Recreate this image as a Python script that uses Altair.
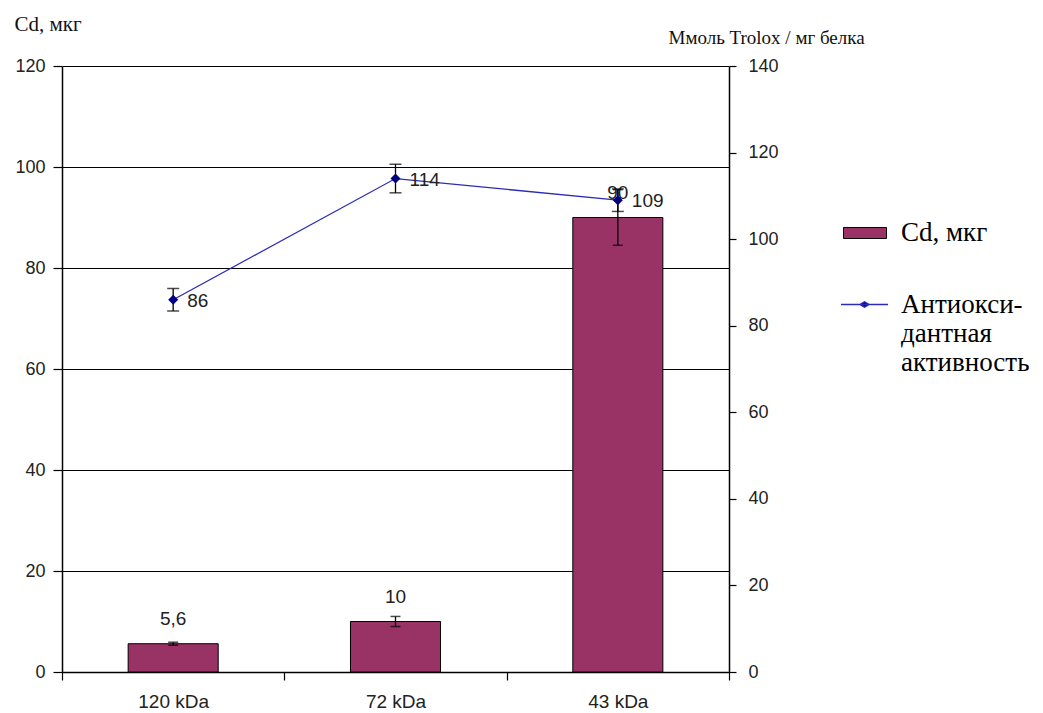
import altair as alt
import pandas as pd

categories = ["120 kDa", "72 kDa", "43 kDa"]
cd_values = [5.6, 10, 90]
cd_errors = [0.3, 1.0, 5.5]
cd_labels = ["5,6", "10", "90"]
aoa_values = [86, 114, 109]
aoa_errors = [2.6, 3.3, 2.6]
aoa_labels = ["86", "114", "109"]
left_ticks = [0, 20, 40, 60, 80, 100, 120]
right_ticks = [0, 20, 40, 60, 80, 100, 120, 140]
bar_series = "Cd, мкг"
line_series = "Антиокси-дантная активность"

bars_df = pd.DataFrame({
    "cat": categories, "val": cd_values, "lab": cd_labels, "series": bar_series,
    "lo": [v - e for v, e in zip(cd_values, cd_errors)],
    "hi": [v + e for v, e in zip(cd_values, cd_errors)],
})
line_df = pd.DataFrame({
    "cat": categories, "val": aoa_values, "lab": aoa_labels, "series": line_series,
    "lo": [v - e for v, e in zip(aoa_values, aoa_errors)],
    "hi": [v + e for v, e in zip(aoa_values, aoa_errors)],
})

SANS = "Liberation Sans"
SERIF = "Liberation Serif"

x_enc = alt.X("cat:N", sort=categories, title=None,
              scale=alt.Scale(paddingInner=0, paddingOuter=0),
              axis=alt.Axis(labelAngle=0, labelFont=SANS, labelFontSize=19, labelColor="#222",
                            labelPadding=12, tickBand="extent", tickSize=8, tickColor="black",
                            tickWidth=1.2, domainColor="black", domainWidth=1.5, grid=False))

left_axis = alt.Axis(values=left_ticks, grid=True, gridColor="black", gridWidth=1, gridOpacity=1,
                     domainColor="black", domainWidth=1.5, tickColor="black", tickSize=9, tickWidth=1.2,
                     labelFont=SANS, labelFontSize=18, labelColor="#222", labelPadding=8,
                     title="Cd, мкг", titleAngle=0, titleX=-48, titleY=-36, titleAlign="left",
                     titleBaseline="alphabetic", titleFont=SERIF, titleFontSize=21,
                     titleFontWeight="normal", titleColor="#111")
right_axis = alt.Axis(values=right_ticks, orient="right", grid=False,
                      domainColor="black", domainWidth=1.5, tickColor="black", tickSize=7, tickWidth=1.2,
                      labelFont=SANS, labelFontSize=18, labelColor="#222", labelPadding=12,
                      title="Ммоль Trolox / мг белка", titleAngle=0, titleX=-61, titleY=-23,
                      titleAlign="left", titleBaseline="alphabetic", titleFont=SERIF, titleFontSize=19,
                      titleFontWeight="normal", titleColor="#111")

ly = alt.Scale(domain=[0, 120], nice=False, zero=True)
ry = alt.Scale(domain=[0, 140], nice=False, zero=True)

base_b = alt.Chart(bars_df)
bars = base_b.mark_bar(stroke="black", strokeWidth=1, width=alt.RelativeBandSize(0.405)).encode(
    x=x_enc,
    y=alt.Y("val:Q", scale=ly, axis=left_axis),
    fill=alt.Fill("series:N", scale=alt.Scale(domain=[bar_series], range=["#993366"]),
                  legend=alt.Legend(title=None, orient="none", legendX=781, legendY=145,
                                    symbolType="M-1,-0.256H1V0.256H-1Z", symbolSize=1849,
                                    symbolStrokeColor="black", symbolStrokeWidth=1,
                                    labelFont=SERIF, labelFontSize=27, labelColor="black",
                                    labelOffset=14, padding=0)),
)
bar_err = base_b.mark_rule(color="black", strokeWidth=1.3).encode(
    x=x_enc, y=alt.Y("lo:Q", scale=ly, axis=left_axis), y2="hi:Q")
bar_cap_lo = base_b.mark_tick(color="black", size=10, thickness=1.5).encode(
    x=x_enc, y=alt.Y("lo:Q", scale=ly, axis=left_axis))
bar_cap_hi = base_b.mark_tick(color="black", size=10, thickness=1.5).encode(
    x=x_enc, y=alt.Y("hi:Q", scale=ly, axis=left_axis))
bar_text = base_b.mark_text(font=SANS, fontSize=19, color="#222", dy=-25, baseline="middle").encode(
    x=x_enc, y=alt.Y("val:Q", scale=ly, axis=left_axis), text="lab:N")

bar_group = alt.layer(bars, bar_err, bar_cap_lo, bar_cap_hi, bar_text)

base_l = alt.Chart(line_df)
line = base_l.mark_line(strokeWidth=1.3).encode(
    x=x_enc,
    y=alt.Y("val:Q", scale=ry, axis=right_axis),
    stroke=alt.Stroke("series:N", scale=alt.Scale(domain=[line_series], range=["#2b2bb8"]),
                      legend=alt.Legend(title=None, orient="none", legendX=778, legendY=214,
                                        symbolType="M-1,0H1M-0.2,0L0,-0.12L0.2,0L0,0.12Z",
                                        symbolSize=2209, symbolFillColor="#000080",
                                        symbolStrokeWidth=1.3,
                                        labelExpr="['Антиокси-', 'дантная', 'активность']",
                                        labelFont=SERIF, labelFontSize=27, labelColor="black",
                                        labelOffset=12, padding=0)),
)
line_err = base_l.mark_rule(color="black", strokeWidth=1.3).encode(
    x=x_enc, y=alt.Y("lo:Q", scale=ry, axis=right_axis), y2="hi:Q")
line_cap_lo = base_l.mark_tick(color="black", size=12, thickness=1.5).encode(
    x=x_enc, y=alt.Y("lo:Q", scale=ry, axis=right_axis))
line_cap_hi = base_l.mark_tick(color="black", size=12, thickness=1.5).encode(
    x=x_enc, y=alt.Y("hi:Q", scale=ry, axis=right_axis))
points = base_l.mark_point(shape="diamond", filled=True, color="#000080", size=100, opacity=1).encode(
    x=x_enc, y=alt.Y("val:Q", scale=ry, axis=right_axis))
line_text = base_l.mark_text(font=SANS, fontSize=19, color="#222", align="left", dx=14, dy=1,
                             baseline="middle").encode(
    x=x_enc, y=alt.Y("val:Q", scale=ry, axis=right_axis), text="lab:N")

line_group = alt.layer(line, line_err, line_cap_lo, line_cap_hi, points, line_text)

chart = alt.layer(bar_group, line_group).resolve_scale(
    y="independent", fill="independent", stroke="independent"
).properties(
    width=667, height=606,
    padding={"left": 54, "top": 58, "right": 300, "bottom": 41},
    autosize=alt.AutoSizeParams(type="none"),
).configure_view(stroke=None).configure(background="white")

chart.save("out.html", embed_options={"renderer": "svg", "actions": False})
